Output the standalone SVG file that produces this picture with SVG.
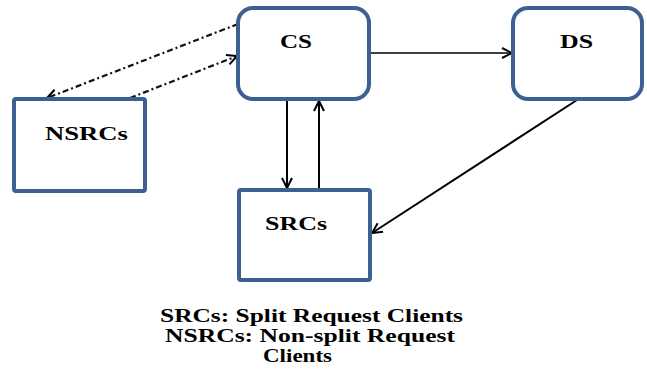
<svg xmlns="http://www.w3.org/2000/svg" width="647" height="372" viewBox="0 0 647 372">
<defs>
<style>
.box{fill:#fff;stroke:#3B6091;stroke-width:4}
.lbl{font-family:'Liberation Serif','DejaVu Serif',serif;font-weight:700;font-size:19px;fill:#000}
.cap{font-family:'Liberation Serif','DejaVu Serif',serif;font-weight:700;font-size:18px;fill:#000}
.ln{fill:none;stroke:#000;stroke-width:2}
.dd{fill:none;stroke:#111;stroke-width:2.2;stroke-dasharray:6 3 2 3}
</style>
<marker id="arr" markerUnits="userSpaceOnUse" markerWidth="14" markerHeight="14" refX="11" refY="6" orient="auto" viewBox="0 0 14 12">
<path d="M1,1 L11,6 L1,11" fill="none" stroke="#000" stroke-width="2"/>
</marker>
</defs>
<rect width="647" height="372" fill="#fff"/>
<g id="connectors">
<line class="ln" x1="369" y1="53" x2="512" y2="53" marker-end="url(#arr)" style="stroke-width:1.6"/>
<line class="ln" x1="287" y1="99" x2="287" y2="188" marker-end="url(#arr)"/>
<line class="ln" x1="319" y1="190" x2="319" y2="101" marker-end="url(#arr)"/>
<line class="ln" x1="577" y1="100" x2="372" y2="233" marker-end="url(#arr)"/>
<line class="dd" x1="238" y1="24" x2="47" y2="98" marker-end="url(#arr)"/>
<line class="dd" x1="130" y1="98" x2="237" y2="56" marker-end="url(#arr)"/>
</g>
<g id="CS">
<rect class="box" x="238" y="8" width="131" height="91" rx="15"/>
<text class="lbl" x="280" y="48" textLength="32" lengthAdjust="spacingAndGlyphs">CS</text>
</g>
<g id="DS">
<rect class="box" x="513" y="8" width="129" height="91" rx="15"/>
<text class="lbl" x="560" y="48" textLength="33" lengthAdjust="spacingAndGlyphs">DS</text>
</g>
<g id="NSRCs">
<rect class="box" x="14" y="99" width="131" height="92" rx="2"/>
<text class="lbl" x="45" y="140" textLength="83" lengthAdjust="spacingAndGlyphs">NSRCs</text>
</g>
<g id="SRCs">
<rect class="box" x="239" y="190" width="131" height="90" rx="2"/>
<text class="lbl" x="265" y="230" textLength="62" lengthAdjust="spacingAndGlyphs">SRCs</text>
</g>
<g id="caption">
<text class="cap" x="160" y="322" textLength="303" lengthAdjust="spacingAndGlyphs">SRCs: Split Request Clients</text>
<text class="cap" x="165" y="342" textLength="290" lengthAdjust="spacingAndGlyphs">NSRCs: Non-split Request</text>
<text class="cap" x="263" y="362" textLength="69" lengthAdjust="spacingAndGlyphs">Clients</text>
</g>
</svg>
